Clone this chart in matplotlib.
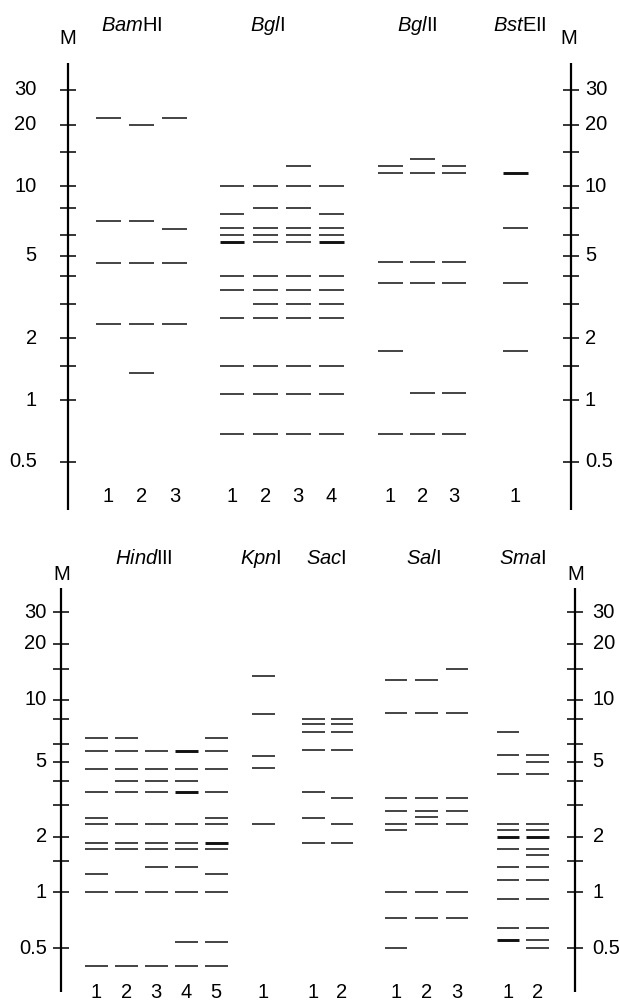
import collections

import matplotlib
matplotlib.use("Agg")
import matplotlib.pyplot as plt
import numpy as np

plt.rcParams["font.family"] = ["Liberation Sans", "DejaVu Sans"]
plt.rcParams["mathtext.fontset"] = "custom"
plt.rcParams["mathtext.rm"] = "Liberation Sans"
plt.rcParams["mathtext.it"] = "Liberation Sans:italic"

# ---------------------------------------------------------------------------
# Data: size marker calibration (kb vs. distance run in the gel) and bands
# ---------------------------------------------------------------------------

MARKER_KB = [30, 20, 15, 10, 8, 6, 5, 4, 3, 2, 1.5, 1, 0.5]
MARKER_RUN = [89.3, 124.0, 151.7, 186.0, 207.3, 235.0, 255.3, 276.0, 303.3,
              338.3, 365.7, 400.0, 461.7]
MARKER_LABELS = [30, 20, 10, 5, 2, 1, 0.5]
GEL_RANGE_KB = (0.29, 41)

# fragment sizes in kb, one list per lane; a repeated value is a doublet
BAMHI = [
    [21.6, 7.0, 4.64, 2.36],
    [20.0, 7.0, 4.64, 2.36, 1.38],
    [21.6, 6.43, 4.64, 2.36],
]
BGLI = [
    [10, 7.5, 6.45, 6.0, 5.66, 5.66, 4.0, 3.45, 2.55, 1.5, 1.08, 0.68],
    [10, 8.0, 6.45, 6.0, 5.66, 4.0, 3.45, 3.0, 2.55, 1.5, 1.08, 0.68],
    [12.8, 10, 8.0, 6.45, 6.0, 5.66, 4.0, 3.45, 3.0, 2.55, 1.5, 1.08, 0.68],
    [10, 7.5, 6.45, 6.0, 5.66, 5.66, 4.0, 3.45, 3.0, 2.55, 1.5, 1.08, 0.68],
]
BGLII = [
    [12.8, 11.7, 4.67, 3.74, 1.75, 0.68],
    [13.9, 11.7, 4.67, 3.74, 1.09, 0.68],
    [12.8, 11.7, 4.67, 3.74, 1.09, 0.68],
]
BSTEII = [
    [11.7, 11.7, 6.47, 3.74, 1.75],
]
HINDIII = [
    [6.4, 5.6, 4.6, 3.5, 2.55, 2.35, 1.86, 1.74, 1.28, 1.0, 0.4],
    [6.4, 5.6, 4.6, 4.0, 3.5, 2.35, 1.86, 1.74, 1.0, 0.4],
    [5.6, 4.6, 4.0, 3.5, 2.35, 1.86, 1.74, 1.39, 1.0, 0.4],
    [5.6, 5.6, 4.6, 4.0, 3.5, 3.5, 2.35, 1.86, 1.74, 1.39, 1.0, 0.54, 0.4],
    [6.4, 5.6, 4.6, 3.5, 2.55, 2.35, 1.86, 1.86, 1.74, 1.28, 1.0, 0.54, 0.4],
]
KPNI = [
    [13.7, 8.5, 5.3, 4.65, 2.36],
]
SACI = [
    [8.0, 7.5, 6.9, 5.65, 3.5, 2.56, 1.87],
    [8.0, 7.5, 6.9, 5.65, 3.25, 2.36, 1.87],
]
SALI = [
    [12.9, 8.6, 3.25, 2.8, 2.36, 2.19, 1.0, 0.73, 0.5],
    [12.9, 8.6, 3.25, 2.8, 2.57, 2.36, 1.0, 0.73],
    [15.0, 8.6, 3.25, 2.8, 2.36, 1.0, 0.73],
]
SMAI = [
    [6.9, 5.35, 4.35, 2.36, 2.19, 2.0, 2.0, 1.74, 1.40, 1.18, 0.92, 0.64, 0.55, 0.55],
    [5.35, 5.0, 4.35, 2.36, 2.19, 2.0, 2.0, 1.74, 1.62, 1.40, 1.18, 0.92, 0.64, 0.55, 0.5],
]

# ---------------------------------------------------------------------------
# Layout (pixels of the 620 x 1001 figure)
# ---------------------------------------------------------------------------

W, H = 620, 1001
FONT = 14.5

# (italic part, roman part, lanes, first lane x, lane pitch, title x)
TOP_GROUPS = [
    ("Bam", "HI", BAMHI, 108.3, 33.1, 131.8),
    ("Bgl", "I", BGLI, 232.0, 33.1, 267.5),
    ("Bgl", "II", BGLII, 390.5, 31.7, 416.7),
    ("Bst", "EII", BSTEII, 515.5, 0.0, 520.0),
]
BOTTOM_GROUPS = [
    ("Hind", "III", HINDIII, 96.2, 30.0, 143.8),
    ("Kpn", "I", KPNI, 263.3, 0.0, 261.2),
    ("Sac", "I", SACI, 313.3, 28.5, 325.8),
    ("Sal", "I", SALI, 395.8, 30.5, 423.3),
    ("Sma", "I", SMAI, 508.0, 29.2, 522.5),
]

PANELS = [
    # groups, axes top/bottom px, band half width, title y, lane-number y,
    # ladders: (x, label x, label ha, M x)
    dict(groups=TOP_GROUPS, top=63.3, bottom=510.0, half=12.4,
         title_y=25.5, num_y=496.7, m_y=39.0,
         ladders=[(67.7, 36.7, "right", 67.7), (570.7, 585.0, "left", 568.3)]),
    dict(groups=BOTTOM_GROUPS, top=588.3, bottom=991.7, half=11.3,
         title_y=558.8, num_y=992.5, m_y=574.0,
         ladders=[(61.3, 46.7, "right", 61.7), (575.0, 592.7, "left", 576.0)]),
]


# ---------------------------------------------------------------------------
# Gel scale: size (kb) -> migration, interpolated on log size from the marker
# ---------------------------------------------------------------------------

_LOGK = np.log10(np.array(MARKER_KB, float))[::-1]
_RUN = -np.array(MARKER_RUN, float)[::-1]


def _extrap(x, xp, fp):
    x = np.asarray(x, float)
    s0 = (fp[1] - fp[0]) / (xp[1] - xp[0])
    s1 = (fp[-1] - fp[-2]) / (xp[-1] - xp[-2])
    return np.where(x < xp[0], fp[0] + (x - xp[0]) * s0,
                    np.where(x > xp[-1], fp[-1] + (x - xp[-1]) * s1,
                             np.interp(x, xp, fp)))


def kb_to_run(kb):
    return _extrap(np.log10(np.clip(np.asarray(kb, float), 1e-6, None)), _LOGK, _RUN)


def run_to_kb(run):
    return 10 ** _extrap(run, _RUN, _LOGK)


def fig_text(fig, x, y, s, **kw):
    fig.text(x / W, 1 - y / H, s, fontsize=FONT, **kw)


# ---------------------------------------------------------------------------
# Drawing
# ---------------------------------------------------------------------------

fig = plt.figure(figsize=(W / 100, H / 100), dpi=100)

for panel in PANELS:
    ax = fig.add_axes([0, 1 - panel["bottom"] / H, 1,
                       (panel["bottom"] - panel["top"]) / H])
    ax.set_yscale("function", functions=(kb_to_run, run_to_kb))
    ax.set_ylim(*GEL_RANGE_KB)
    ax.set_xlim(0, W)
    ax.axis("off")

    # size marker ladders on both sides
    for x, lx, ha, mx in panel["ladders"]:
        ax.axvline(x, color="black", lw=1.6)
        ax.hlines(MARKER_KB, x - 8, x + 8, color="black", lw=1.1)
        for kb in MARKER_LABELS:
            ax.text(lx, kb, f"{kb:g}", ha=ha, va="center", fontsize=FONT)
        fig_text(fig, mx, panel["m_y"], "M", ha="center", va="center")

    for italic, roman, lanes, x0, pitch, tx in panel["groups"]:
        fig_text(fig, tx, panel["title_y"], rf"$\mathit{{{italic}}}$" + roman,
                 ha="center", va="center")
        for i, lane in enumerate(lanes):
            cx = x0 + i * pitch
            counts = collections.Counter(lane)
            for kb, n in counts.items():
                ax.hlines(kb, cx - panel["half"], cx + panel["half"],
                          color="#111111", lw=1.1 if n == 1 else 2.1)
            fig_text(fig, cx, panel["num_y"], str(i + 1), ha="center", va="center")

fig.savefig("out.png", dpi=100, facecolor="white")
